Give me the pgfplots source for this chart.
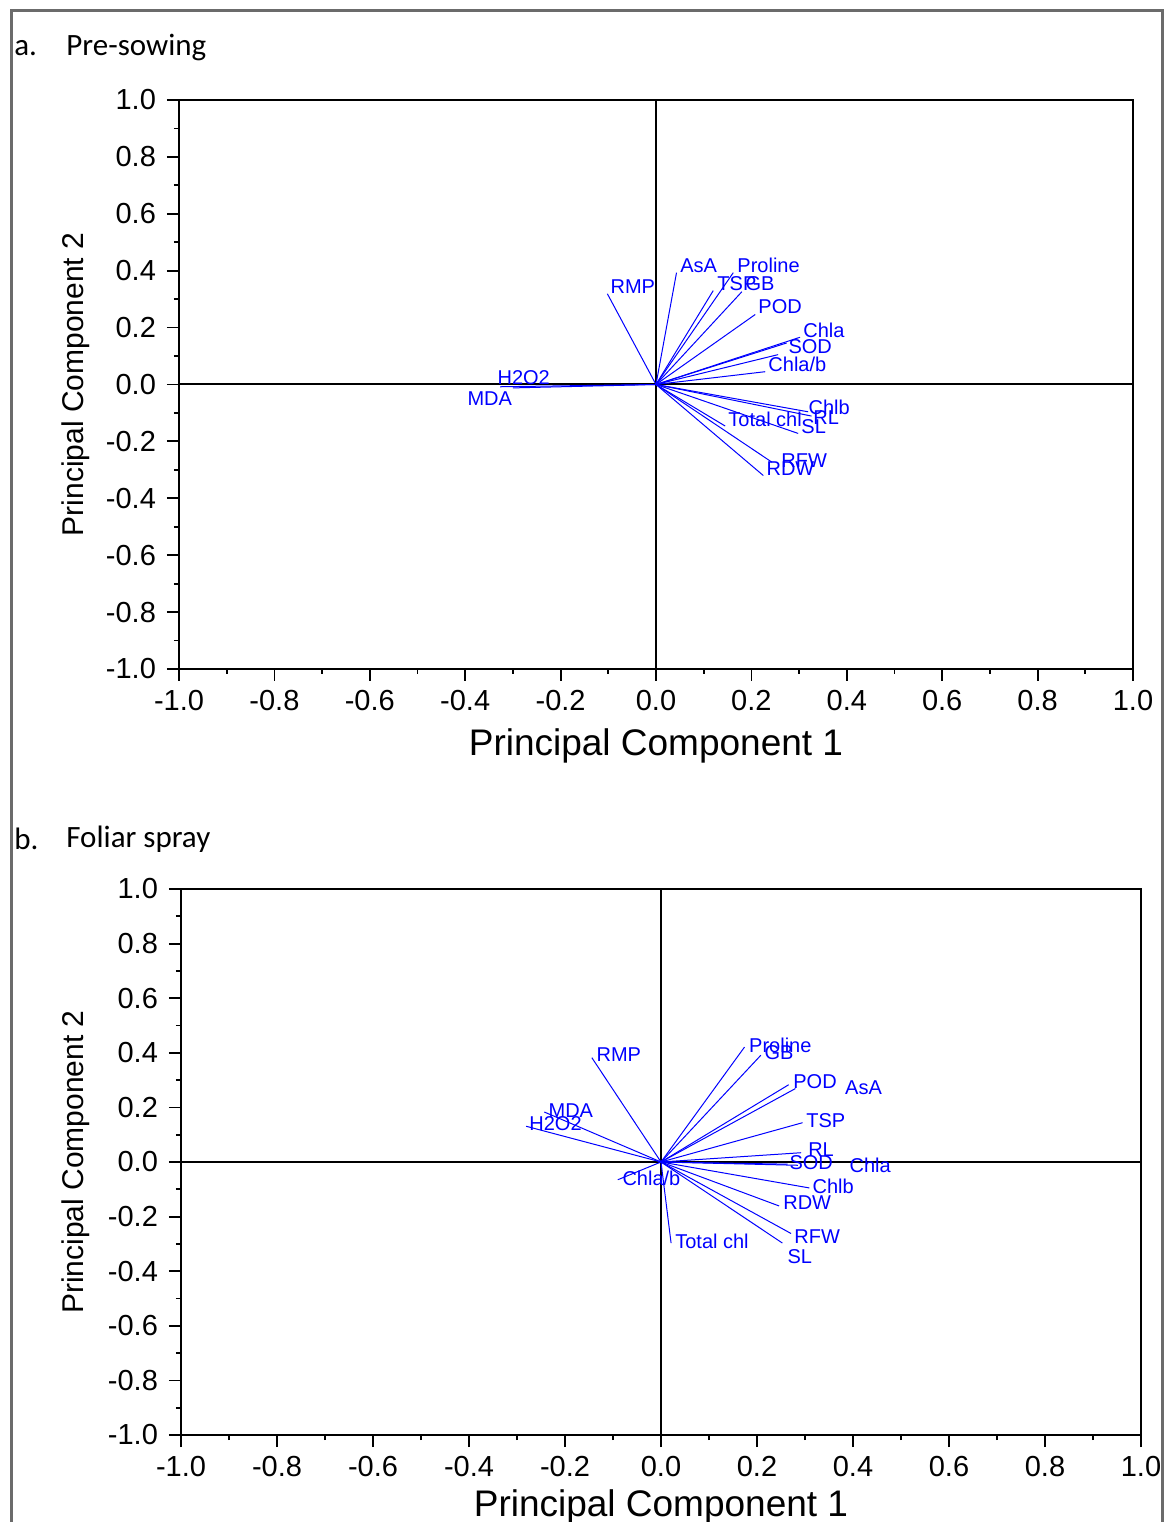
\documentclass[border=0pt]{standalone}
\usepackage{fontspec}
\setmainfont{Liberation Sans}
\newfontfamily\carlito{Carlito}
\usepackage{pgfplots}
\pgfplotsset{compat=1.18}

\pgfplotsset{
  pca/.style={
    scale only axis,
    xmin=-1, xmax=1, ymin=-1, ymax=1,
    xtick={-1,-0.8,...,1}, ytick={-1,-0.8,...,1},
    xticklabels={-1.0,-0.8,-0.6,-0.4,-0.2,0.0,0.2,0.4,0.6,0.8,1.0},
    yticklabels={-1.0,-0.8,-0.6,-0.4,-0.2,0.0,0.2,0.4,0.6,0.8,1.0},
    minor tick num=1,
    tick pos=left, tick align=outside,
    major tick length=6pt, minor tick length=2.5pt,
    every tick/.style={black, line width=0.9pt},
    axis line style={line width=1.2pt},
    tick label style={font=\fontsize{14.5}{16}\selectfont},
    xticklabel style={yshift=-1pt},
    yticklabel style={xshift=-2pt},
    xlabel={Principal Component 1},
    ylabel={Principal Component 2},
    xlabel style={font=\fontsize{18.5}{20}\selectfont, at={(axis description cs:0.5,0)}, anchor=center},
    ylabel style={font=\fontsize{15}{17}\selectfont, anchor=center},
    clip=false,
  },
  vec/.style={blue, line width=0.5pt, no marks},
}
\tikzset{lab/.style={anchor=west, inner sep=0pt, text=blue, font=\fontsize{10}{11}\selectfont}}

\begin{document}
\begin{tikzpicture}
\path[use as bounding box] (0,0) rectangle (584pt,761pt);

% panel titles
\node[anchor=west, inner sep=0pt, font=\carlito\fontsize{15.5}{17}\selectfont] at (7pt,737pt) {a.};
\node[anchor=west, inner sep=0pt, font=\carlito\fontsize{15.5}{17}\selectfont] at (33pt,737pt) {Pre-sowing};
\node[anchor=west, inner sep=0pt, font=\carlito\fontsize{15.5}{17}\selectfont] at (7pt,341.5pt) {b.};
\node[anchor=west, inner sep=0pt, font=\carlito\fontsize{15.5}{17}\selectfont] at (33pt,341.5pt) {Foliar spray};

% a. Pre-sowing
\begin{axis}[pca, at={(89.5pt,426.5pt)}, anchor=south west, width=477pt, height=284.5pt,
  xlabel style={yshift=-38.5pt},
  ylabel style={at={(axis description cs:-0.108,0.5)}}]
\addplot[black, line width=1pt] coordinates {(-1,0) (1,0)};
\addplot[black, line width=1pt] coordinates {(0,-1) (0,1)};
\addplot[vec] coordinates {(0,0) (0.043,0.393)};   \node[lab] at (axis cs:0.050,0.418) {AsA};
\addplot[vec] coordinates {(0,0) (0.162,0.393)};   \node[lab] at (axis cs:0.170,0.418) {Proline};
\addplot[vec] coordinates {(0,0) (0.120,0.330)};   \node[lab] at (axis cs:0.128,0.355) {TSP};
\addplot[vec] coordinates {(0,0) (0.180,0.326)};   \node[lab] at (axis cs:0.187,0.355) {GB};
\addplot[vec] coordinates {(0,0) (0.208,0.246)};   \node[lab] at (axis cs:0.214,0.274) {POD};
\addplot[vec] coordinates {(0,0) (0.302,0.166)};   \node[lab] at (axis cs:0.308,0.190) {Chla};
\addplot[vec] coordinates {(0,0) (0.274,0.146)};   \node[lab] at (axis cs:0.277,0.134) {SOD};
\addplot[vec] coordinates {(0,0) (0.256,0.105)};
\addplot[vec] coordinates {(0,0) (0.229,0.045)};   \node[lab] at (axis cs:0.235,0.070) {Chla/b};
\addplot[vec] coordinates {(0,0) (-0.327,-0.008)}; \node[lab] at (axis cs:-0.333,0.025) {H2O2};
\addplot[vec] coordinates {(0,0) (-0.300,-0.012)}; \node[lab] at (axis cs:-0.396,-0.049) {MDA};
\addplot[vec] coordinates {(0,0) (-0.102,0.319)};  \node[lab] at (axis cs:-0.096,0.344) {RMP};
\addplot[vec] coordinates {(0,0) (0.319,-0.096)};  \node[lab] at (axis cs:0.319,-0.081) {Chlb};
\addplot[vec] coordinates {(0,0) (0.326,-0.111)};  \node[lab] at (axis cs:0.329,-0.116) {RL};
\addplot[vec] coordinates {(0,0) (0.145,-0.146)};  \node[lab] at (axis cs:0.151,-0.123) {Total chl};
\addplot[vec] coordinates {(0,0) (0.298,-0.172)};  \node[lab] at (axis cs:0.304,-0.148) {SL};
\addplot[vec] coordinates {(0,0) (0.243,-0.273)};  \node[lab] at (axis cs:0.262,-0.267) {RFW};
\addplot[vec] coordinates {(0,0) (0.225,-0.320)};  \node[lab] at (axis cs:0.231,-0.295) {RDW};
\end{axis}

% b. Foliar spray
\begin{axis}[pca, at={(90.5pt,43.5pt)}, anchor=south west, width=480pt, height=273pt,
  xlabel style={yshift=-36pt},
  ylabel style={at={(axis description cs:-0.110,0.5)}}]
\addplot[black, line width=0.75pt] coordinates {(-1,0) (1,0)};
\addplot[black, line width=0.75pt] coordinates {(0,-1) (0,1)};
\addplot[vec] coordinates {(0,0) (0.174,0.421)};   \node[lab] at (axis cs:0.183,0.429) {Proline};
\addplot[vec] coordinates {(0,0) (0.208,0.391)};   \node[lab] at (axis cs:0.215,0.399) {GB};
\addplot[vec] coordinates {(0,0) (0.266,0.283)};   \node[lab] at (axis cs:0.275,0.293) {POD};
\addplot[vec] coordinates {(0,0) (0.280,0.269)};   \node[lab] at (axis cs:0.383,0.271) {AsA};
\addplot[vec] coordinates {(0,0) (0.295,0.144)};   \node[lab] at (axis cs:0.302,0.150) {TSP};
\addplot[vec] coordinates {(0,0) (0.292,0.034)};   \node[lab] at (axis cs:0.306,0.044) {RL};
\addplot[vec] coordinates {(0,0) (0.264,-0.008)};  \node[lab] at (axis cs:0.267,-0.004) {SOD};
\addplot[vec] coordinates {(0,0) (0.285,-0.012)};  \node[lab] at (axis cs:0.392,-0.011) {Chla};
\addplot[vec] coordinates {(0,0) (0.309,-0.095)};  \node[lab] at (axis cs:0.315,-0.088) {Chlb};
\addplot[vec] coordinates {(0,0) (0.246,-0.161)};  \node[lab] at (axis cs:0.254,-0.150) {RDW};
\addplot[vec] coordinates {(0,0) (0.271,-0.262)};  \node[lab] at (axis cs:0.277,-0.275) {RFW};
\addplot[vec] coordinates {(0,0) (0.253,-0.297)};  \node[lab] at (axis cs:0.263,-0.348) {SL};
\addplot[vec] coordinates {(0,0) (0.021,-0.297)};  \node[lab] at (axis cs:0.029,-0.289) {Total chl};
\addplot[vec] coordinates {(0,0) (-0.090,-0.065)}; \node[lab] at (axis cs:-0.081,-0.059) {Chla/b};
\addplot[vec] coordinates {(0,0) (-0.144,0.382)};  \node[lab] at (axis cs:-0.135,0.392) {RMP};
\addplot[vec] coordinates {(0,0) (-0.243,0.183)};  \node[lab] at (axis cs:-0.235,0.190) {MDA};
\addplot[vec] coordinates {(0,0) (-0.281,0.131)};  \node[lab] at (axis cs:-0.275,0.139) {H2O2};
\end{axis}

% outer frame (open at the bottom)
\draw[black!58, line width=1.5pt] (5.5pt,0) -- (5.5pt,755.5pt) -- (581pt,755.5pt) -- (581pt,0);
\end{tikzpicture}
\end{document}
